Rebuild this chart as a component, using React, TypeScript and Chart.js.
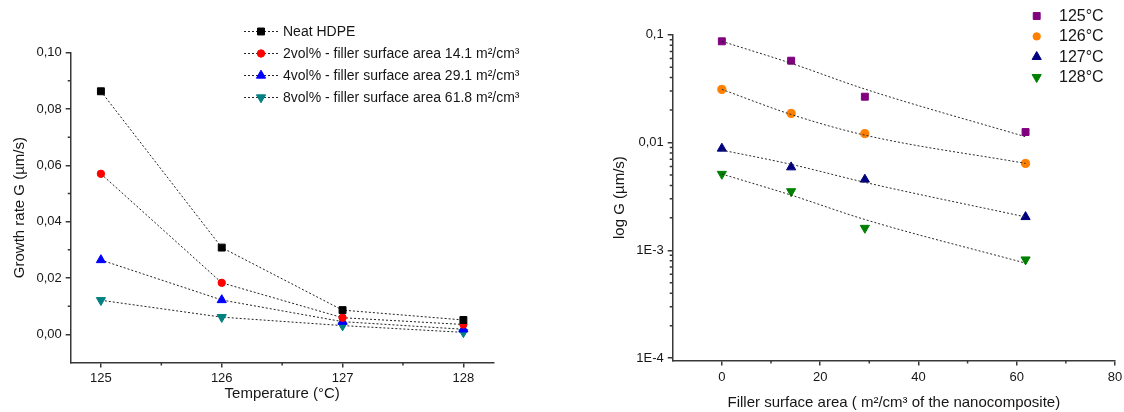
import React, { useEffect, useRef } from 'react';
import { Chart, registerables } from 'chart.js';

Chart.register(...registerables);

const FONT = '"Liberation Sans", Arial, Helvetica, sans-serif';
const TEXT = '#161616';
const AXIS = '#383838';

// ---------- Left chart: growth rate vs temperature ----------
const temperatures = [125, 126, 127, 128];
const neatHDPE = [0.0863, 0.0308, 0.0086, 0.0051];
const vol2 = [0.057, 0.0183, 0.0059, 0.0035];
const vol4 = [0.0264, 0.0122, 0.0045, 0.0018];
const vol8 = [0.0121, 0.0061, 0.0031, 0.0007];
const leftLegendLabels = [
  'Neat HDPE',
  '2vol% - filler surface area 14.1 m\u00B2/cm\u00B3',
  '4vol% - filler surface area 29.1 m\u00B2/cm\u00B3',
  '8vol% - filler surface area 61.8 m\u00B2/cm\u00B3',
];
const leftColors = ['#000000', '#ff0000', '#0000ff', '#008080'];
const leftXTicks = [125, 126, 127, 128];
const leftXMinor = [125.5, 126.5, 127.5];
const leftYTicks = [0, 0.02, 0.04, 0.06, 0.08, 0.1];
const leftYTickLabels = ['0,00', '0,02', '0,04', '0,06', '0,08', '0,10'];
const leftYMinor = [0.01, 0.03, 0.05, 0.07, 0.09];

// ---------- Right chart: log G vs filler surface area ----------
const surfaceArea = [0, 14.1, 29.1, 61.8];
const g125 = [0.0868, 0.0574, 0.0266, 0.0125];
const g126 = [0.0311, 0.0186, 0.0121, 0.0064];
const g127 = [0.0088, 0.0059, 0.00454, 0.00204];
const g128 = [0.0051, 0.00352, 0.00161, 0.00082];
const fit125 = [0.0868, 0.0543, 0.0313, 0.0113];
const fit126 = [0.0311, 0.0182, 0.0117, 0.0064];
const fit127 = [0.0085, 0.00627, 0.00427, 0.00204];
const fit128 = [0.0051, 0.00325, 0.00193, 0.00076];
const rightLegendLabels = ['125\u00B0C', '126\u00B0C', '127\u00B0C', '128\u00B0C'];
const rightColors = ['#800080', '#ff8000', '#000080', '#008000'];
const rightXTicks = [0, 20, 40, 60, 80];
const rightXMinor = [10, 30, 50, 70];
const rightYTicks = [1e-4, 1e-3, 1e-2, 1e-1];
const rightYTickLabels = ['1E-4', '1E-3', '0,01', '0,1'];
const decadeMultipliers = [2, 3, 4, 5, 6, 7, 8, 9];
const rightYDecades = [1e-4, 1e-3, 1e-2];

const pts = (xs: number[], ys: number[]) => xs.map((x, i) => ({ x, y: ys[i] }));

function drawMarker(ctx: CanvasRenderingContext2D, style: string, x: number, y: number, r: number, color: string, rotation = 0) {
  ctx.save();
  ctx.fillStyle = color;
  ctx.strokeStyle = color;
  ctx.lineWidth = 1;
  ctx.setLineDash([]);
  ctx.beginPath();
  if (style === 'rect') {
    const s = Math.SQRT1_2 * r;
    ctx.rect(x - s, y - s, 2 * s, 2 * s);
  } else if (style === 'circle') {
    ctx.arc(x, y, r, 0, Math.PI * 2);
  } else {
    let rad = (rotation * Math.PI) / 180;
    for (let k = 0; k < 3; k++) {
      const px = x + Math.sin(rad) * r;
      const py = y - Math.cos(rad) * r;
      if (k === 0) ctx.moveTo(px, py);
      else ctx.lineTo(px, py);
      rad += (2 * Math.PI) / 3;
    }
  }
  ctx.closePath();
  ctx.fill();
  ctx.stroke();
  ctx.restore();
}

const minorTickPlugin = {
  id: 'minorTicks',
  afterDraw(chart: any, _args: any, opts: any) {
    const ctx = chart.ctx;
    const xs = chart.scales.x;
    const ys = chart.scales.y;
    const len = opts.length ?? 3;
    ctx.save();
    ctx.strokeStyle = AXIS;
    ctx.lineWidth = 1.5;
    ctx.beginPath();
    (opts.x || []).forEach((v: number) => {
      const px = xs.getPixelForValue(v);
      ctx.moveTo(px, xs.top);
      ctx.lineTo(px, xs.top + len);
    });
    (opts.y || []).forEach((v: number) => {
      const py = ys.getPixelForValue(v);
      ctx.moveTo(ys.right, py);
      ctx.lineTo(ys.right - len, py);
    });
    ctx.stroke();
    ctx.restore();
  },
};

const customLegendPlugin = {
  id: 'customLegend',
  afterDraw(chart: any, _args: any, opts: any) {
    if (!opts || !opts.items) return;
    const ctx = chart.ctx;
    ctx.save();
    ctx.font = `${opts.fontSize}px ${FONT}`;
    ctx.fillStyle = TEXT;
    ctx.textBaseline = 'middle';
    ctx.textAlign = 'left';
    opts.items.forEach((it: any, i: number) => {
      const y = opts.y + i * opts.dy;
      if (opts.line) {
        ctx.save();
        ctx.strokeStyle = '#222';
        ctx.lineWidth = 1;
        ctx.setLineDash([2, 2]);
        ctx.beginPath();
        ctx.moveTo(opts.lineX0, y);
        ctx.lineTo(opts.lineX1, y);
        ctx.stroke();
        ctx.restore();
      }
      drawMarker(ctx, it.style, opts.markerX, y, it.radius, it.color, it.rotation || 0);
      ctx.fillStyle = TEXT;
      ctx.fillText(it.label, opts.textX, y + 0.5);
    });
    ctx.restore();
  },
};

const tickFont = { family: FONT, size: 13 };
const titleFont = { family: FONT, size: 15 };

const markerStyles = [
  { style: 'rect', radius: 4.9, rotation: 0 },
  { style: 'circle', radius: 3.7, rotation: 0 },
  { style: 'triangle', radius: 5.3, rotation: 0 },
  { style: 'triangle', radius: 5.3, rotation: 180 },
];

function makeLeftChart(canvas: HTMLCanvasElement) {
  const series = [neatHDPE, vol2, vol4, vol8];
  return new Chart(canvas, {
    type: 'line',
    data: {
      datasets: series.map((s, i) => ({
        label: leftLegendLabels[i],
        data: pts(temperatures, s),
        borderColor: '#222',
        borderWidth: 1,
        borderDash: [2, 2],
        pointStyle: markerStyles[i].style as any,
        pointRadius: markerStyles[i].radius,
        pointRotation: markerStyles[i].rotation,
        pointBackgroundColor: leftColors[i],
        pointBorderColor: leftColors[i],
        pointBorderWidth: 1,
        tension: 0,
        fill: false,
      })),
    },
    options: {
      animation: false,
      responsive: false,
      layout: { padding: { top: 52.7, right: 68.4, bottom: 0, left: 0 } },
      plugins: {
        legend: { display: false },
        tooltip: { enabled: false },
        minorTicks: { x: leftXMinor, y: leftYMinor, length: 3 },
        customLegend: {
          items: leftLegendLabels.map((label, i) => ({ label, color: leftColors[i], ...markerStyles[i] })),
          y: 31.5,
          dy: 22,
          line: true,
          lineX0: 244,
          lineX1: 280,
          markerX: 261,
          textX: 283,
          fontSize: 14,
        },
      } as any,
      scales: {
        x: {
          type: 'linear',
          min: 124.75,
          max: 128.25,
          afterBuildTicks: (scale: any) => {
            scale.ticks = leftXTicks.map((v) => ({ value: v }));
          },
          afterFit: (scale: any) => {
            scale.height = 49.5;
            scale.paddingLeft = 0;
            scale.paddingRight = 0;
          },
          grid: { display: true, drawOnChartArea: false, drawTicks: true, tickLength: 5, color: AXIS, lineWidth: 1.5 },
          border: { display: true, color: AXIS, width: 1.5 },
          ticks: { font: tickFont, color: TEXT, padding: 3, maxRotation: 0, autoSkip: false, callback: (v: any) => String(v) },
          title: { display: true, text: 'Temperature (\u00B0C)', font: titleFont, color: TEXT, padding: { top: 0, bottom: 9 } },
        },
        y: {
          type: 'linear',
          min: -0.01,
          max: 0.1,
          afterBuildTicks: (scale: any) => {
            scale.ticks = leftYTicks.map((v) => ({ value: v }));
          },
          afterFit: (scale: any) => {
            scale.width = 70.7;
            scale.paddingTop = 0;
            scale.paddingBottom = 0;
          },
          grid: { display: true, drawOnChartArea: false, drawTicks: true, tickLength: 5, color: AXIS, lineWidth: 1.5 },
          border: { display: true, color: AXIS, width: 1.5 },
          ticks: { font: tickFont, color: TEXT, padding: 4, autoSkip: false, callback: (_v: any, i: number) => leftYTickLabels[i] },
          title: { display: true, text: 'Growth rate G (\u00B5m/s)', font: titleFont, color: TEXT, padding: { top: 11, bottom: 0 } },
        },
      },
    },
    plugins: [minorTickPlugin, customLegendPlugin],
  } as any);
}

function makeRightChart(canvas: HTMLCanvasElement) {
  const series = [g125, g126, g127, g128];
  const fits = [fit125, fit126, fit127, fit128];
  const fitSets = fits.map((f) => ({
    data: pts(surfaceArea, f),
    borderColor: '#2a2a2a',
    borderWidth: 1,
    borderDash: [2, 2],
    pointRadius: 0,
    cubicInterpolationMode: 'monotone',
    fill: false,
    order: 0,
  }));
  const markerSets = series.map((s, i) => ({
    label: rightLegendLabels[i],
    data: pts(surfaceArea, s),
    showLine: false,
    pointStyle: markerStyles[i].style,
    pointRadius: markerStyles[i].radius + (i === 1 ? 0.4 : 0),
    pointRotation: markerStyles[i].rotation,
    pointBackgroundColor: rightColors[i],
    pointBorderColor: rightColors[i],
    pointBorderWidth: 1,
    order: 1,
  }));
  const minorY: number[] = [];
  rightYDecades.forEach((d) => decadeMultipliers.forEach((m) => minorY.push(d * m)));
  return new Chart(canvas, {
    type: 'line',
    data: { datasets: [...fitSets, ...markerSets] },
    options: {
      animation: false,
      responsive: false,
      layout: { padding: { top: 34.7, right: 9, bottom: 0, left: 0 } },
      plugins: {
        legend: { display: false },
        tooltip: { enabled: false },
        minorTicks: { x: rightXMinor, y: minorY, length: 3 },
        customLegend: {
          items: rightLegendLabels.map((label, i) => ({ label, color: rightColors[i], ...markerStyles[i] })),
          y: 16,
          dy: 20.4,
          line: false,
          markerX: 474.7,
          textX: 497,
          fontSize: 16,
        },
      } as any,
      scales: {
        x: {
          type: 'linear',
          min: -10,
          max: 80,
          afterBuildTicks: (scale: any) => {
            scale.ticks = rightXTicks.map((v) => ({ value: v }));
          },
          afterFit: (scale: any) => {
            scale.height = 51.5;
            scale.paddingLeft = 0;
            scale.paddingRight = 0;
          },
          grid: { display: true, drawOnChartArea: false, drawTicks: true, tickLength: 5, color: AXIS, lineWidth: 1.5 },
          border: { display: true, color: AXIS, width: 1.5 },
          ticks: { font: tickFont, color: TEXT, padding: 4, maxRotation: 0, autoSkip: false, callback: (v: any) => String(v) },
          title: {
            display: true,
            text: 'Filler surface area ( m\u00B2/cm\u00B3 of the nanocomposite)',
            font: titleFont,
            color: TEXT,
            padding: { top: 0, bottom: 0 },
          },
        },
        y: {
          type: 'logarithmic',
          min: 9.5e-5,
          max: 0.1,
          afterBuildTicks: (scale: any) => {
            scale.ticks = rightYTicks.map((v) => ({ value: v }));
          },
          afterFit: (scale: any) => {
            scale.width = 110.7;
            scale.paddingTop = 0;
            scale.paddingBottom = 0;
          },
          grid: { display: true, drawOnChartArea: false, drawTicks: true, tickLength: 5, color: AXIS, lineWidth: 1.5 },
          border: { display: true, color: AXIS, width: 1.5 },
          ticks: { font: tickFont, color: TEXT, padding: 4, autoSkip: false, callback: (_v: any, i: number) => rightYTickLabels[i] },
          title: { display: true, text: 'log G (\u00B5m/s)', font: titleFont, color: TEXT, padding: { top: 49, bottom: 0 } },
        },
      },
    },
    plugins: [minorTickPlugin, customLegendPlugin],
  } as any);
}

export default function App() {
  const leftRef = useRef<HTMLCanvasElement>(null);
  const rightRef = useRef<HTMLCanvasElement>(null);

  useEffect(() => {
    document.body.style.margin = '0';
    document.body.style.background = '#ffffff';
    const c1 = leftRef.current ? makeLeftChart(leftRef.current) : null;
    const c2 = rightRef.current ? makeRightChart(rightRef.current) : null;
    return () => {
      c1?.destroy();
      c2?.destroy();
    };
  }, []);

  return (
    <div style={{ position: 'relative', width: 1124, height: 412, background: '#fff', overflow: 'hidden' }}>
      <canvas ref={leftRef} width={562} height={412} style={{ position: 'absolute', left: 0, top: 0, width: 562, height: 412, display: 'block' }} />
      <canvas ref={rightRef} width={562} height={412} style={{ position: 'absolute', left: 562, top: 0, width: 562, height: 412, display: 'block' }} />
    </div>
  );
}
